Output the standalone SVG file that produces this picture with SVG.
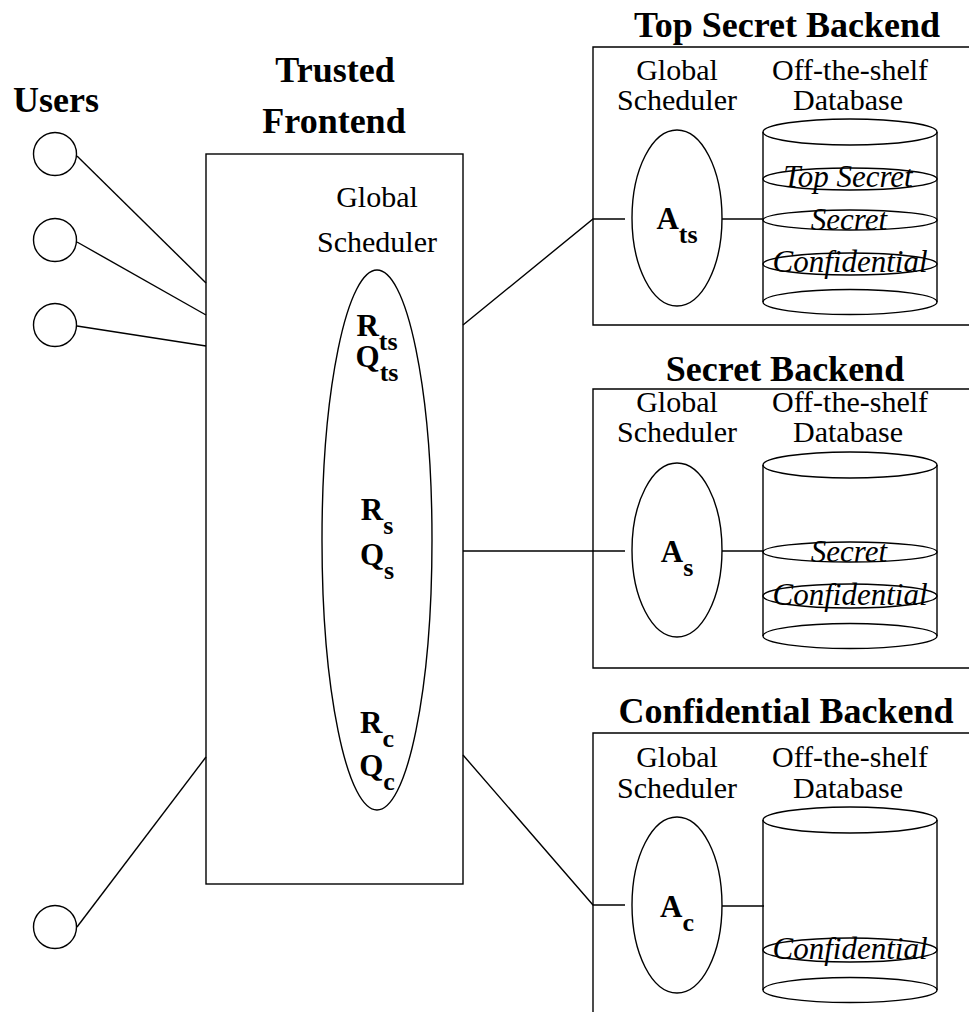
<svg xmlns="http://www.w3.org/2000/svg" width="969" height="1012" viewBox="0 0 969 1012">
<style>
  .ln { stroke: #000; stroke-width: 1.4; fill: none; }
  .ttl { font-family: "Liberation Serif", "Times New Roman", serif; font-weight: bold; font-size: 36px; fill: #000; text-anchor: middle; }
  .lbl { font-family: "Liberation Serif", "Times New Roman", serif; font-size: 30px; fill: #000; text-anchor: middle; }
  .lvl { font-family: "Liberation Serif", "Times New Roman", serif; font-style: italic; font-size: 31px; fill: #000; text-anchor: middle; }
  .var { font-family: "Liberation Serif", "Times New Roman", serif; font-weight: bold; font-size: 31px; fill: #000; text-anchor: middle; }
  .sub { font-size: 26px; }
</style>
<rect width="969" height="1012" fill="#fff"/>

<g id="connectors">
  <line class="ln" x1="77" y1="156" x2="206" y2="283"/>
  <line class="ln" x1="77" y1="242" x2="206" y2="315"/>
  <line class="ln" x1="77" y1="326" x2="206" y2="346"/>
  <line class="ln" x1="77" y1="927" x2="206" y2="757"/>
  <polyline class="ln" points="463,325 593,219 625,219"/>
  <line class="ln" x1="463" y1="551" x2="625" y2="551"/>
  <polyline class="ln" points="463,755 593,905 625,905"/>
  <line class="ln" x1="722" y1="219" x2="764" y2="219"/>
  <line class="ln" x1="722" y1="551" x2="764" y2="551"/>
  <line class="ln" x1="722" y1="906" x2="764" y2="906"/>
</g>

<g id="users">
  <text class="ttl" x="56" y="112">Users</text>
  <circle class="ln" cx="55" cy="154" r="21.5"/>
  <circle class="ln" cx="55" cy="240" r="21.5"/>
  <circle class="ln" cx="55" cy="325" r="21.5"/>
  <circle class="ln" cx="55" cy="927" r="21.5"/>
</g>

<g id="frontend">
  <text class="ttl" x="335" y="82">Trusted</text>
  <text class="ttl" x="334" y="133">Frontend</text>
  <rect class="ln" x="206" y="154" width="257" height="730"/>
  <text class="lbl" x="377" y="207" font-size="31">Global</text>
  <text class="lbl" x="377" y="252" font-size="31">Scheduler</text>
  <ellipse class="ln" cx="377" cy="540" rx="55" ry="270"/>
  <text class="var" x="377" y="336">R<tspan class="sub" dy="14">ts</tspan></text>
  <text class="var" x="377" y="367">Q<tspan class="sub" dy="14">ts</tspan></text>
  <text class="var" x="377" y="520">R<tspan class="sub" dy="14">s</tspan></text>
  <text class="var" x="377" y="565">Q<tspan class="sub" dy="14">s</tspan></text>
  <text class="var" x="377" y="733">R<tspan class="sub" dy="14">c</tspan></text>
  <text class="var" x="377" y="776">Q<tspan class="sub" dy="14">c</tspan></text>
</g>

<g id="topsecret-backend">
  <text class="ttl" x="787" y="37">Top Secret Backend</text>
  <polyline class="ln" points="975,47 593,47 593,325 975,325"/>
  <text class="lbl" x="677" y="80">Global</text>
  <text class="lbl" x="677" y="110">Scheduler</text>
  <text class="lbl" x="850" y="80">Off-the-shelf</text>
  <text class="lbl" x="848" y="110">Database</text>
  <ellipse class="ln" cx="677" cy="218" rx="45" ry="88"/>
  <text class="var" x="677" y="229">A<tspan class="sub" dy="14">ts</tspan></text>
  <line class="ln" x1="763" y1="132" x2="763" y2="302"/>
  <line class="ln" x1="937" y1="132" x2="937" y2="302"/>
  <ellipse class="ln" cx="850" cy="132" rx="87" ry="13"/>
  <ellipse class="ln" cx="850" cy="302" rx="87" ry="12.5"/>
  <ellipse class="ln" cx="850" cy="179" rx="87" ry="11"/>
  <ellipse class="ln" cx="850" cy="220" rx="87" ry="10"/>
  <ellipse class="ln" cx="850" cy="264" rx="87" ry="11"/>
  <text class="lvl" x="848" y="187">Top Secret</text>
  <text class="lvl" x="849" y="230">Secret</text>
  <text class="lvl" x="850" y="272">Confidential</text>
</g>

<g id="secret-backend">
  <text class="ttl" x="785" y="381">Secret Backend</text>
  <polyline class="ln" points="975,389 593,389 593,668 975,668"/>
  <text class="lbl" x="677" y="412">Global</text>
  <text class="lbl" x="677" y="442">Scheduler</text>
  <text class="lbl" x="850" y="412">Off-the-shelf</text>
  <text class="lbl" x="848" y="442">Database</text>
  <ellipse class="ln" cx="677" cy="550" rx="45" ry="87"/>
  <text class="var" x="677" y="562">A<tspan class="sub" dy="14">s</tspan></text>
  <line class="ln" x1="763" y1="465" x2="763" y2="636"/>
  <line class="ln" x1="937" y1="465" x2="937" y2="636"/>
  <ellipse class="ln" cx="850" cy="465" rx="87" ry="13"/>
  <ellipse class="ln" cx="850" cy="636" rx="87" ry="12.5"/>
  <ellipse class="ln" cx="850" cy="552" rx="87" ry="10"/>
  <ellipse class="ln" cx="850" cy="596" rx="87" ry="12"/>
  <text class="lvl" x="849" y="562">Secret</text>
  <text class="lvl" x="850" y="605">Confidential</text>
</g>

<g id="confidential-backend">
  <text class="ttl" x="786" y="723">Confidential Backend</text>
  <polyline class="ln" points="975,733 593,733 593,1015"/>
  <text class="lbl" x="677" y="767">Global</text>
  <text class="lbl" x="677" y="798">Scheduler</text>
  <text class="lbl" x="850" y="767">Off-the-shelf</text>
  <text class="lbl" x="848" y="798">Database</text>
  <ellipse class="ln" cx="677" cy="905" rx="45" ry="88"/>
  <text class="var" x="677" y="917">A<tspan class="sub" dy="14">c</tspan></text>
  <line class="ln" x1="763" y1="820" x2="763" y2="990"/>
  <line class="ln" x1="937" y1="820" x2="937" y2="990"/>
  <ellipse class="ln" cx="850" cy="820" rx="87" ry="13"/>
  <ellipse class="ln" cx="850" cy="990" rx="87" ry="12.5"/>
  <ellipse class="ln" cx="850" cy="950" rx="87" ry="12"/>
  <text class="lvl" x="850" y="959">Confidential</text>
</g>
</svg>
